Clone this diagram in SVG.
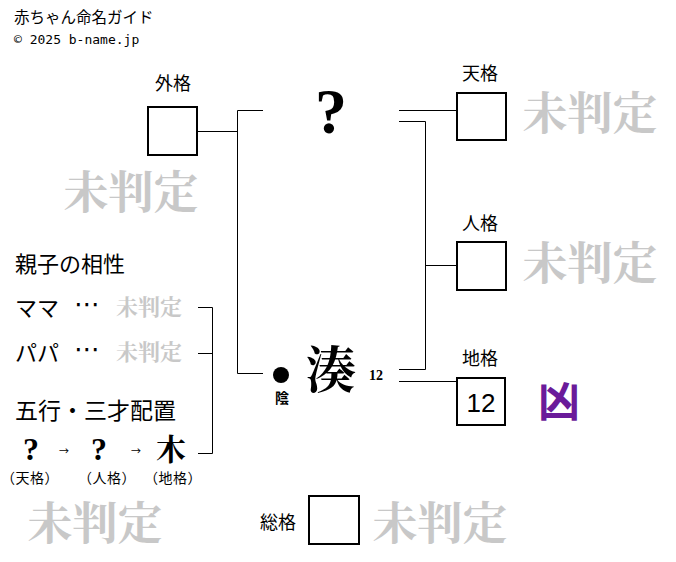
<svg xmlns="http://www.w3.org/2000/svg" width="676" height="562" viewBox="0 0 676 562">
<style>
.jp{font-family:"Noto Sans CJK JP","Liberation Sans",sans-serif;fill:#000}
.lbl{font-size:18px;text-anchor:middle}
.box{fill:#fff;stroke:#000;stroke-width:2}
.ln{fill:none;stroke:#000;stroke-width:1}
.un{font-family:"Noto Serif CJK JP","Noto Sans CJK JP",serif;fill:#c8c8c8;text-anchor:middle;font-weight:bold}
.big{font-size:45px}
.sm{font-size:22px}
.ser{font-family:"Liberation Serif","Noto Serif CJK JP","Noto Sans CJK JP",serif;font-weight:bold;fill:#000}
.par{font-size:14px;text-anchor:middle;letter-spacing:0.5px}
</style>
<rect width="676" height="562" fill="#fff"/>
<g id="header">
<text class="jp" x="14" y="23" font-size="15.5">赤ちゃん命名ガイド</text>
<text x="14" y="44" font-family="DejaVu Sans Mono,Liberation Mono,monospace" font-size="13">© 2025 b-name.jp</text>
</g>
<g id="connectors">
<path class="ln" d="M197,131.5H237.5M237.5,110.5V373.5M237.5,110.5H263M237.5,373.5H263"/>
<path class="ln" d="M399,110.5H457M399,121.5H425.5V369.5H399M425.5,265.5H457M399,381.5H457"/>
<path class="ln" d="M198,307.5H212.5V453.5H198M198,353.5H212.5"/>
</g>
<g id="gaikaku">
<text class="jp lbl" x="173" y="90">外格</text>
<rect class="box" x="148" y="107" width="49" height="48"/>
<text class="un big" x="131" y="209">未判定</text>
</g>
<g id="center-top">
<text class="ser" x="331" y="133" font-size="64" text-anchor="middle">?</text>
</g>
<g id="center-bottom">
<circle cx="281" cy="375" r="8" fill="#000"/>
<text class="jp" x="282" y="403" font-size="14" font-weight="bold" text-anchor="middle">陰</text>
<text class="ser" x="331" y="388" font-size="50" text-anchor="middle" font-weight="normal">湊</text>
<text class="ser" x="376" y="380" font-size="14" text-anchor="middle">12</text>
</g>
<g id="tenkaku">
<text class="jp lbl" x="480" y="80">天格</text>
<rect class="box" x="457" y="93" width="49" height="47"/>
<text class="un big" x="590" y="130">未判定</text>
</g>
<g id="jinkaku">
<text class="jp lbl" x="480" y="230">人格</text>
<rect class="box" x="457" y="242" width="49" height="48"/>
<text class="un big" x="590" y="280">未判定</text>
</g>
<g id="chikaku">
<text class="jp lbl" x="480" y="365">地格</text>
<rect class="box" x="457" y="378" width="48" height="47"/>
<text x="481" y="412" font-family="Liberation Sans,sans-serif" font-size="26" text-anchor="middle">12</text>
<text class="jp" x="559" y="417" font-size="42" font-weight="bold" text-anchor="middle" style="fill:#6a1b9a">凶</text>
</g>
<g id="aisho">
<text class="jp" x="15" y="272" font-size="22">親子の相性</text>
<text class="jp" x="15" y="316" font-size="22">ママ</text>
<text x="87" y="313" font-family="DejaVu Sans,sans-serif" font-size="26" text-anchor="middle">⋯</text>
<text class="un sm" x="149" y="315">未判定</text>
<text class="jp" x="15" y="361" font-size="22">パパ</text>
<text x="87" y="358" font-family="DejaVu Sans,sans-serif" font-size="26" text-anchor="middle">⋯</text>
<text class="un sm" x="149" y="360">未判定</text>
</g>
<g id="gogyo">
<text class="jp" x="15" y="419" font-size="23">五行・三才配置</text>
<text class="ser" x="31" y="460" font-size="32" text-anchor="middle">?</text>
<text class="jp" x="64" y="455" font-size="10" text-anchor="middle">→</text>
<text class="ser" x="99" y="460" font-size="32" text-anchor="middle">?</text>
<text class="jp" x="136" y="455" font-size="10" text-anchor="middle">→</text>
<text class="ser" x="171" y="460" font-size="30" text-anchor="middle" font-weight="normal">木</text>
<text class="jp par" x="30" y="483">（天格）</text>
<text class="jp par" x="107" y="483">（人格）</text>
<text class="jp par" x="173" y="483">（地格）</text>
<text class="un big" x="95" y="540">未判定</text>
</g>
<g id="sokaku">
<text class="jp" x="278" y="529" font-size="18" text-anchor="middle">総格</text>
<rect class="box" x="309" y="496" width="50" height="48"/>
<text class="un big" x="440" y="540">未判定</text>
</g>
</svg>
